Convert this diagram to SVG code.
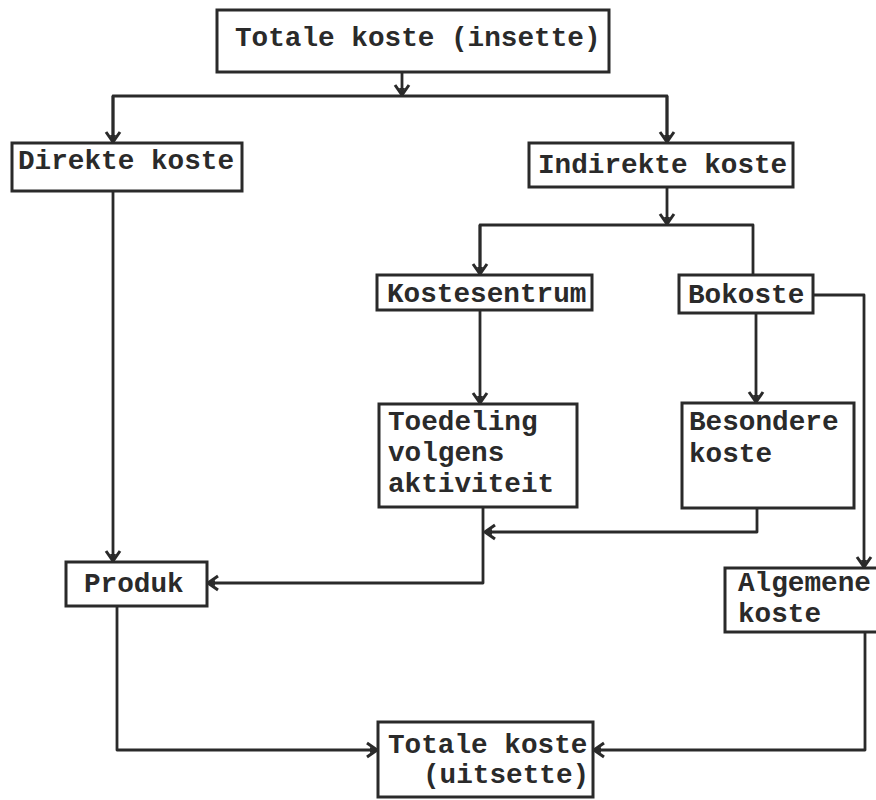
<svg xmlns="http://www.w3.org/2000/svg" width="876" height="800" viewBox="0 0 876 800">
<style>
.box{fill:#fff;stroke:#2a2a2a;stroke-width:3}
.t{font-family:"Liberation Mono","Courier New",monospace;font-weight:bold;font-size:27.7px;fill:#2a2a2a}
.c{fill:none;stroke:#2a2a2a;stroke-width:2.8;stroke-linejoin:round}
</style>
<defs>
<marker id="ah" markerUnits="userSpaceOnUse" viewBox="-13 -9 15 18" markerWidth="15" markerHeight="18" refX="0" refY="0" orient="auto">
<path d="M-10,-7 L0,0 L-10,7" fill="none" stroke="#2a2a2a" stroke-width="3"/>
<path d="M-7,-3 L0,0 L-7,3 Z" fill="#2a2a2a"/>
</marker>
</defs>
<rect width="876" height="800" fill="#fff"/>
<g id="connectors">
<path class="c" d="M402,72 V95" marker-end="url(#ah)"/>
<path class="c" d="M113,142 V96 H667 V142" />
<path class="c" d="M113,96 V142" marker-end="url(#ah)"/>
<path class="c" d="M667,96 V142" marker-end="url(#ah)"/>
<path class="c" d="M667,187 V224" marker-end="url(#ah)"/>
<path class="c" d="M480,274 V225 H753 V275"/>
<path class="c" d="M480,225 V274" marker-end="url(#ah)"/>
<path class="c" d="M480,310 V403" marker-end="url(#ah)"/>
<path class="c" d="M756,313 V402" marker-end="url(#ah)"/>
<path class="c" d="M813,295 H864 V567" marker-end="url(#ah)"/>
<path class="c" d="M757,508 V532 H485" marker-end="url(#ah)"/>
<path class="c" d="M483,507 V583 H208" marker-end="url(#ah)"/>
<path class="c" d="M113,191 V561" marker-end="url(#ah)"/>
<path class="c" d="M117,606 V750 H377" marker-end="url(#ah)"/>
<path class="c" d="M865,632 V750 H594" marker-end="url(#ah)"/>
</g>
<g id="n-totale-insette">
<rect class="box" x="217" y="10" width="392" height="62"/>
<text class="t" x="235" y="46">Totale koste (insette)</text>
</g>
<g id="n-direkte">
<rect class="box" x="12" y="143" width="230" height="48"/>
<text class="t" x="18" y="169">Direkte koste</text>
</g>
<g id="n-indirekte">
<rect class="box" x="529" y="143" width="264" height="44"/>
<text class="t" x="538" y="173">Indirekte koste</text>
</g>
<g id="n-kostesentrum">
<rect class="box" x="377" y="275" width="215" height="35"/>
<text class="t" x="387" y="302">Kostesentrum</text>
</g>
<g id="n-bokoste">
<rect class="box" x="679" y="275" width="134" height="38"/>
<text class="t" x="688" y="303">Bokoste</text>
</g>
<g id="n-toedeling">
<rect class="box" x="379" y="404" width="198" height="103"/>
<text class="t" x="388" y="430">Toedeling</text>
<text class="t" x="388" y="461">volgens</text>
<text class="t" x="388" y="492">aktiviteit</text>
</g>
<g id="n-besondere">
<rect class="box" x="682" y="403" width="172" height="105"/>
<text class="t" x="689" y="430">Besondere</text>
<text class="t" x="689" y="462">koste</text>
</g>
<g id="n-produk">
<rect class="box" x="66" y="562" width="141" height="44"/>
<text class="t" x="84" y="592">Produk</text>
</g>
<g id="n-algemene">
<rect class="box" x="725" y="568" width="170" height="64"/>
<text class="t" x="738" y="591">Algemene</text>
<text class="t" x="738" y="622">koste</text>
</g>
<g id="n-totale-uitsette">
<rect class="box" x="378" y="722" width="215" height="75"/>
<text class="t" x="388" y="753">Totale koste</text>
<text class="t" x="423" y="783">(uitsette)</text>
</g>
</svg>
